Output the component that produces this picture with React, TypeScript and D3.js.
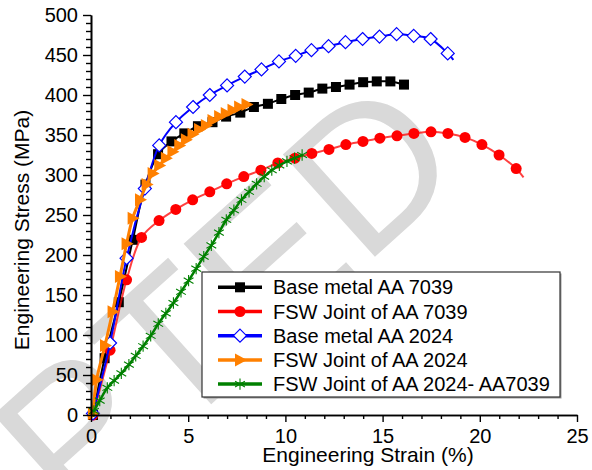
import { useEffect, useRef } from "react";
import * as d3 from "d3";

// Base metal AA 7039
const bm7039Strain = [0.1, 0.7, 1.43, 2.15, 2.8, 3.45, 4.14, 4.8, 5.5, 6.25, 6.95, 7.68, 8.38, 9.1, 9.79, 10.5, 11.2, 11.9, 12.6, 13.3, 14.0, 14.7, 15.4, 16.1];
const bm7039Stress = [0, 71, 141, 219, 288, 326, 342, 352, 361, 366, 373, 378, 385, 389, 395, 400, 403, 408, 410, 413, 416, 417, 417, 413];

// FSW joint of AA 7039
const fsw7039Strain = [0.1, 0.98, 1.83, 2.6, 3.5, 4.36, 5.23, 6.11, 6.98, 7.86, 8.74, 9.61, 10.49, 11.36, 12.24, 13.11, 13.99, 14.86, 15.74, 16.61, 17.49, 18.36, 19.24, 20.11, 20.99, 21.87];
const fsw7039Stress = [0, 81, 169, 222, 243, 257, 269, 279, 289, 298, 306, 315, 321, 327, 332, 338, 342, 346, 349, 352, 354, 352, 347, 338, 325, 308];
const fsw7039Tail = [22.25, 297];

// Base metal AA 2024
const bm2024Strain = [0.1, 0.98, 1.83, 2.77, 3.51, 4.37, 5.25, 6.11, 7.0, 7.91, 8.77, 9.67, 10.53, 11.34, 12.22, 13.09, 13.97, 14.84, 15.72, 16.6, 17.47, 18.35];
const bm2024Stress = [2, 90, 196, 283, 337, 366, 385, 400, 412, 423, 432, 442, 449, 456, 461, 466, 470, 473, 476, 474, 470, 452];
const bm2024Tail = [18.64, 444];

// FSW joint of AA 2024
const fsw2024Strain = [0.1, 0.29, 0.72, 1.11, 1.49, 1.83, 2.14, 2.52, 2.86, 3.17, 3.51, 3.85, 4.19, 4.54, 4.88, 5.22, 5.56, 5.91, 6.25, 6.59, 6.93, 7.28, 7.62, 8.0];
const fsw2024Stress = [2, 44, 87, 129, 173, 214, 246, 269, 288, 302, 312, 321, 329, 337, 344, 351, 357, 362, 368, 373, 377, 381, 385, 388];

// FSW joint of AA 2024 - AA 7039
const fswMixStrain = [0.15, 0.45, 0.84, 1.19, 1.56, 1.95, 2.3, 2.68, 3.07, 3.46, 3.85, 4.24, 4.63, 5.02, 5.41, 5.8, 6.19, 6.58, 6.96, 7.35, 7.74, 8.13, 8.52, 8.91, 9.3, 9.69, 10.08, 10.47, 10.86];
const fswMixStress = [5, 18, 34, 43, 52, 63, 74, 86, 99, 114, 127, 140, 154, 168, 183, 198, 212, 228, 244, 256, 269, 279, 289, 298, 306, 312, 317, 321, 325];

const seriesNames = ["Base metal AA 7039", "FSW Joint of AA 7039", "Base metal AA 2024", "FSW Joint of AA 2024", "FSW Joint of AA 2024- AA7039"];
const xTicks = [0, 5, 10, 15, 20, 25];
const yTicks = [0, 50, 100, 150, 200, 250, 300, 350, 400, 450, 500];
const watermark = "ACCEPTED";

const FONT = "'Liberation Sans', Arial, sans-serif";

const App = () => {
  const ref = useRef<SVGSVGElement>(null);

  useEffect(() => {
    const svg = d3.select(ref.current);
    svg.selectAll("*").remove();

    const width = 592, height = 470;
    const x = d3.scaleLinear().domain([0, 25]).range([91, 577]);
    const y = d3.scaleLinear().domain([0, 500]).range([415, 15]);

    // watermark
    svg.append("text")
      .attr("transform", "translate(470,171) rotate(-42)")
      .attr("text-anchor", "end")
      .attr("font-family", FONT)
      .attr("font-size", 200)
      .attr("fill", "#d9d9d9")
      .text(watermark);

    const zip = (xs: number[], ys: number[]) => xs.map((v, i) => [v, ys[i]] as [number, number]);

    const series = [
      { name: seriesNames[0], pts: zip(bm7039Strain, bm7039Stress), tail: null, color: "#000000", lw: 2, marker: "square" },
      { name: seriesNames[1], pts: zip(fsw7039Strain, fsw7039Stress), tail: fsw7039Tail, color: "#ff0000", lw: 2, marker: "circle" },
      { name: seriesNames[2], pts: zip(bm2024Strain, bm2024Stress), tail: bm2024Tail, color: "#0000ff", lw: 2, marker: "diamond" },
      { name: seriesNames[3], pts: zip(fsw2024Strain, fsw2024Stress), tail: null, color: "#ff8000", lw: 3, marker: "triangle" },
      { name: seriesNames[4], pts: zip(fswMixStrain, fswMixStress), tail: null, color: "#008000", lw: 2.5, marker: "asterisk" },
    ];

    const line = d3.line<[number, number]>()
      .x(d => x(d[0]))
      .y(d => y(d[1]))
      .curve(d3.curveCatmullRom);

    const drawMarker = (g: any, kind: string, color: string, cx: number, cy: number) => {
      if (kind === "square") {
        g.append("rect").attr("x", cx - 5).attr("y", cy - 5).attr("width", 10).attr("height", 10).attr("fill", color);
      } else if (kind === "circle") {
        g.append("circle").attr("cx", cx).attr("cy", cy).attr("r", 5.5).attr("fill", color);
      } else if (kind === "diamond") {
        g.append("path").attr("d", `M${cx},${cy - 6.5}L${cx + 6.5},${cy}L${cx},${cy + 6.5}L${cx - 6.5},${cy}Z`)
          .attr("fill", "#fff").attr("stroke", color).attr("stroke-width", 1.2);
      } else if (kind === "triangle") {
        g.append("path").attr("d", `M${cx + 7},${cy}L${cx - 5},${cy - 6.5}L${cx - 5},${cy + 6.5}Z`).attr("fill", color);
      } else {
        g.append("path")
          .attr("transform", `translate(${cx},${cy})`)
          .attr("d", d3.symbol(d3.symbolAsterisk, 90)())
          .attr("fill", "none").attr("stroke", color).attr("stroke-width", 1.1);
      }
    };

    const plot = svg.append("g");
    series.forEach(s => {
      const linePts = s.tail ? [...s.pts, s.tail as [number, number]] : s.pts;
      plot.append("path")
        .attr("d", line(linePts))
        .attr("fill", "none")
        .attr("stroke", s.color)
        .attr("stroke-opacity", s.marker === "circle" ? 0.75 : 1)
        .attr("stroke-width", s.lw);
      const mg = plot.append("g");
      s.pts.forEach(p => drawMarker(mg, s.marker, s.color, x(p[0]), y(p[1])));
    });

    // axes
    const styleAxis = (g: any) => {
      g.selectAll("path.domain").attr("stroke", "#000").attr("stroke-width", 1.6);
      g.selectAll(".tick line").attr("stroke", "#000").attr("stroke-width", 1.4);
      g.selectAll(".tick text").attr("font-family", FONT).attr("font-size", 20).attr("fill", "#000");
    };

    svg.append("g")
      .attr("transform", "translate(0,415)")
      .call(d3.axisBottom(x).tickValues(d3.range(0, 26, 1).filter(v => v % 5 !== 0)).tickSize(4).tickSizeOuter(0).tickFormat(() => ""))
      .call(styleAxis);
    svg.append("g")
      .attr("transform", "translate(0,415)")
      .call(d3.axisBottom(x).tickValues(xTicks).tickSize(7).tickPadding(7).tickSizeOuter(0).tickFormat(d3.format("d")))
      .call(styleAxis);

    svg.append("g")
      .attr("transform", "translate(91,0)")
      .call(d3.axisLeft(y).tickValues(d3.range(0, 501, 10).filter(v => v % 50 !== 0)).tickSize(5).tickSizeOuter(0).tickFormat(() => ""))
      .call(styleAxis);
    svg.append("g")
      .attr("transform", "translate(91,0)")
      .call(d3.axisLeft(y).tickValues(yTicks).tickSize(8).tickPadding(5).tickSizeOuter(0).tickFormat(d3.format("d")))
      .call(styleAxis);

    // axis titles
    svg.append("text")
      .attr("transform", "translate(29,230) rotate(-90)")
      .attr("text-anchor", "middle")
      .attr("font-family", FONT).attr("font-size", 21)
      .text("Engineering Stress (MPa)");
    svg.append("text")
      .attr("x", 368).attr("y", 462)
      .attr("text-anchor", "middle")
      .attr("font-family", FONT).attr("font-size", 21)
      .text("Engineering Strain (%)");

    // legend
    const lg = svg.append("g");
    lg.append("rect").attr("x", 203.5).attr("y", 273.5).attr("width", 358).attr("height", 125).attr("fill", "#999");
    lg.append("rect").attr("x", 202).attr("y", 272).attr("width", 358).attr("height", 125)
      .attr("fill", "#fff").attr("stroke", "#333").attr("stroke-width", 1.2);
    series.forEach((s, i) => {
      const ly = 287.3 + i * 24.2;
      lg.append("line").attr("x1", 218).attr("x2", 262).attr("y1", ly).attr("y2", ly)
        .attr("stroke", s.color).attr("stroke-width", 3.5);
      drawMarker(lg, s.marker, s.color, 240, ly);
      lg.append("text")
        .attr("x", 273).attr("y", ly).attr("dy", "0.35em")
        .attr("font-family", FONT).attr("font-size", 20)
        .text(s.name);
    });

    svg.attr("width", width).attr("height", height);
  }, []);

  return (
    <svg ref={ref} width={592} height={470} style={{ position: "absolute", left: 0, top: 0, background: "#fff" }} />
  );
};

export default App;
